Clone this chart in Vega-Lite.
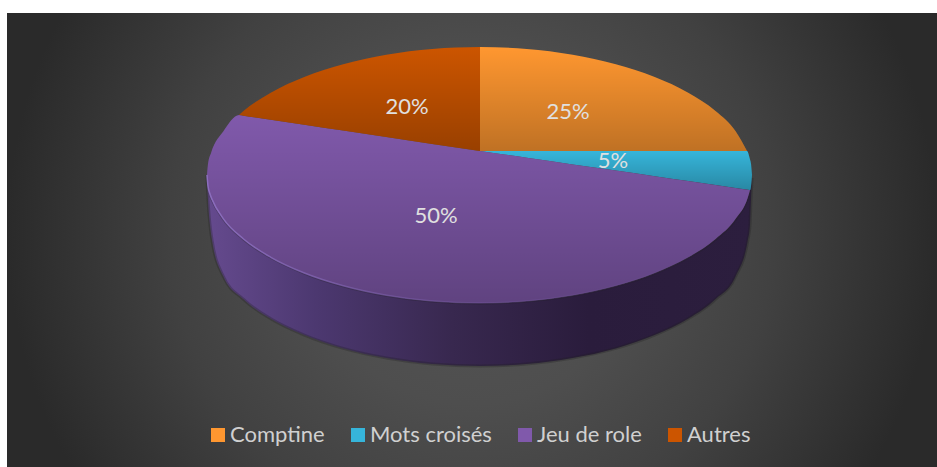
{
"$schema":"https://vega.github.io/schema/vega-lite/v6.json",
"width":930,"height":454,
"autosize":{"type":"none"},
"padding":{"left":7,"top":13,"right":0,"bottom":0},
"background":"#ffffff",
"view":{"stroke":null},
"datasets":{
"backdrop":[{"x":7,"x2":937,"y":-233,"y2":697}],
"side":[
{"x":207,"y":175,"y2":178},{"x":208,"y":186,"y2":200},{"x":210,"y":194,"y2":225},{"x":212,"y":199.3,"y2":240},{"x":223.4,"y":218.8,"y2":276.5},{"x":243.5,"y":239,"y2":299.3},{"x":270.8,"y":257.3,"y2":318.8},{"x":304.3,"y":273,"y2":335.1},{"x":343.2,"y":285.8,"y2":348.4},{"x":386.3,"y":295.3,"y2":358},{"x":432.2,"y":301.1,"y2":364},{"x":480,"y":303,"y2":366},{"x":526.8,"y":301.1,"y2":364},{"x":572.7,"y":295.3,"y2":358},{"x":615.8,"y":285.8,"y2":348.4},{"x":654.7,"y":273,"y2":335.1},{"x":688.2,"y":257.3,"y2":318.8},{"x":715.5,"y":239,"y2":299.3},{"x":735.6,"y":218.8,"y2":276.5},{"x":747.9,"y":197.2,"y2":240},{"x":750,"y":190.4,"y2":225},{"x":751,"y":186.2,"y2":200},{"x":752,"y":178,"y2":178}
],
"slices":[
{"slice":"Comptine","x":480,"y":47,"y2":151},{"slice":"Comptine","x":526.8,"y":48.9,"y2":151},{"slice":"Comptine","x":572.7,"y":54.7,"y2":151},{"slice":"Comptine","x":615.8,"y":64.2,"y2":151},{"slice":"Comptine","x":654.7,"y":77,"y2":151},{"slice":"Comptine","x":688.2,"y":92.7,"y2":151},{"slice":"Comptine","x":715.5,"y":111,"y2":151},{"slice":"Comptine","x":735.6,"y":131.2,"y2":151},{"slice":"Comptine","x":747,"y":151,"y2":151},
{"slice":"Mots croisés","x":480,"y":151,"y2":151},{"slice":"Mots croisés","x":526.8,"y":151,"y2":157.8},{"slice":"Mots croisés","x":572.7,"y":151,"y2":164.4},{"slice":"Mots croisés","x":615.8,"y":151,"y2":170.6},{"slice":"Mots croisés","x":654.7,"y":151,"y2":176.2},{"slice":"Mots croisés","x":688.2,"y":151,"y2":181},{"slice":"Mots croisés","x":715.5,"y":151,"y2":185},{"slice":"Mots croisés","x":735.6,"y":151,"y2":187.9},{"slice":"Mots croisés","x":747,"y":151,"y2":189.6},{"slice":"Mots croisés","x":750,"y":159.6,"y2":190.2},{"slice":"Mots croisés","x":751,"y":163.8,"y2":186.2},{"slice":"Mots croisés","x":752,"y":175,"y2":175},
{"slice":"Jeu de role","x":207,"y":175,"y2":175},{"slice":"Jeu de role","x":208,"y":164,"y2":186},{"slice":"Jeu de role","x":211.1,"y":152.8,"y2":197.2},{"slice":"Jeu de role","x":223.4,"y":131.2,"y2":218.8},{"slice":"Jeu de role","x":239,"y":115,"y2":235},{"slice":"Jeu de role","x":243.5,"y":115.7,"y2":239},{"slice":"Jeu de role","x":270.8,"y":119.8,"y2":257.3},{"slice":"Jeu de role","x":304.3,"y":124.8,"y2":273},{"slice":"Jeu de role","x":343.2,"y":130.6,"y2":285.8},{"slice":"Jeu de role","x":386.3,"y":137,"y2":295.3},{"slice":"Jeu de role","x":432.2,"y":143.9,"y2":301.1},{"slice":"Jeu de role","x":480,"y":151,"y2":303},{"slice":"Jeu de role","x":526.8,"y":157.8,"y2":301.1},{"slice":"Jeu de role","x":572.7,"y":164.4,"y2":295.3},{"slice":"Jeu de role","x":615.8,"y":170.6,"y2":285.8},{"slice":"Jeu de role","x":654.7,"y":176.2,"y2":273},{"slice":"Jeu de role","x":688.2,"y":181,"y2":257.3},{"slice":"Jeu de role","x":715.5,"y":185,"y2":239},{"slice":"Jeu de role","x":735.6,"y":187.9,"y2":218.8},{"slice":"Jeu de role","x":747.9,"y":189.7,"y2":197.2},{"slice":"Jeu de role","x":750,"y":190,"y2":190},
{"slice":"Autres","x":239,"y":115,"y2":115},{"slice":"Autres","x":243.5,"y":111,"y2":115.7},{"slice":"Autres","x":270.8,"y":92.7,"y2":119.8},{"slice":"Autres","x":304.3,"y":77,"y2":124.8},{"slice":"Autres","x":343.2,"y":64.2,"y2":130.6},{"slice":"Autres","x":386.3,"y":54.7,"y2":137},{"slice":"Autres","x":432.2,"y":48.9,"y2":143.9},{"slice":"Autres","x":480,"y":47,"y2":151}
],
"labels":[
{"slice":"Comptine","share":0.25,"x":568,"y":112},
{"slice":"Mots croisés","share":0.05,"x":613,"y":161},
{"slice":"Jeu de role","share":0.5,"x":436,"y":216},
{"slice":"Autres","share":0.2,"x":407,"y":107}
]
},
"encoding":{
"x":{"field":"x","type":"quantitative","axis":null,"scale":{"domain":[7,937],"nice":false,"zero":false}},
"y":{"field":"y","type":"quantitative","axis":null,"scale":{"domain":[467,13],"nice":false,"zero":false}}
},
"layer":[
{"data":{"name":"backdrop"},
"mark":{"type":"rect","clip":true,"color":{"gradient":"radial","x1":0.5,"y1":0.5,"r1":0,"x2":0.5,"y2":0.5,"r2":0.5,"stops":[{"offset":0,"color":"#565656"},{"offset":0.37,"color":"#4e4e4e"},{"offset":0.65,"color":"#414141"},{"offset":1,"color":"#2a2a2a"}]}},
"encoding":{"x2":{"field":"x2"},"y2":{"field":"y2"}}},
{"data":{"name":"side"},
"mark":{"type":"area","interpolate":"monotone","stroke":"#222222","strokeOpacity":0.3,"strokeWidth":3,"color":{"gradient":"linear","x1":0,"y1":0,"x2":1,"y2":0,"stops":[{"offset":0,"color":"#654a8e"},{"offset":0.2,"color":"#4c3870"},{"offset":0.45,"color":"#38284f"},{"offset":0.7,"color":"#2a1c3c"},{"offset":1,"color":"#2c1e3e"}]}},
"encoding":{"y2":{"field":"y2"}}},
{"data":{"name":"slices"},
"mark":{"type":"area","interpolate":"monotone"},
"encoding":{
"y2":{"field":"y2"},
"color":{"field":"slice","type":"nominal","title":null,
"scale":{"domain":["Comptine","Mots croisés","Jeu de role","Autres"],"range":["#ff9730","#36b5da","#8059ab","#cc5500"]},
"legend":{"orient":"none","legendX":200,"legendY":411,"direction":"horizontal","columns":4,"columnPadding":22,"symbolType":"square","symbolSize":196,"symbolStrokeWidth":0,"symbolOpacity":1,"labelColor":"#d0d0d0","labelFont":"Lato","labelFontSize":22,"labelOffset":1,"padding":0}
}
}},
{"data":{"name":"slices"},
"mark":{"type":"area","interpolate":"monotone","color":{"gradient":"linear","x1":0,"y1":0,"x2":0,"y2":1,"stops":[{"offset":0,"color":"rgba(0,0,0,0)"},{"offset":1,"color":"rgba(0,0,0,0.25)"}]}},
"encoding":{"y2":{"field":"y2"},"detail":{"field":"slice"}}},
{"data":{"name":"side"},
"mark":{"type":"line","interpolate":"monotone","strokeWidth":1.5,"stroke":{"gradient":"linear","x1":0,"y1":0,"x2":1,"y2":0,"stops":[{"offset":0,"color":"rgba(140,110,190,1)"},{"offset":0.5,"color":"rgba(120,90,170,0.35)"},{"offset":1,"color":"rgba(120,90,170,0)"}]}}},
{"data":{"name":"labels"},
"mark":{"type":"text","font":"Lato","fontSize":22,"color":"#e0e0e0","align":"center","baseline":"middle"},
"encoding":{"text":{"field":"share","type":"quantitative","format":".0%"}}}
]
}
